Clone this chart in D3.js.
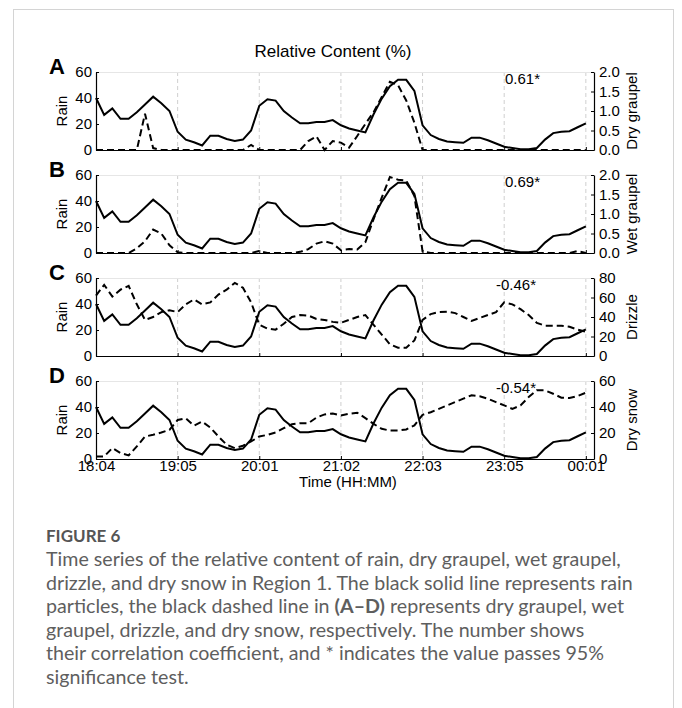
<!DOCTYPE html>
<html>
<head>
<meta charset="utf-8">
<script src="https://cdn.jsdelivr.net/npm/d3@7"></script>
<style>
  body { margin: 0; background: #fff; }
  .chart text { font-family: "Liberation Sans", Arial, sans-serif; fill: #000; }
  .caption text { font-family: Lato, "Open Sans", sans-serif; fill: #5e5e5e; }
</style>
</head>
<body>
<script>
// x tick labels, one every 10 samples
const timeLabels = ["18:04", "19:05", "20:01", "21:02", "22:03", "23:05", "00:01"];

// rain relative content (%), same in all panels
const rain = [40, 27, 32, 24, 24, 29, 35, 41, 36, 30,
  14, 8, 6, 3.5, 11, 11, 8.5, 7, 8, 15,
  34, 39, 38, 30, 25, 20.5, 20.5, 21.5, 21.5, 23,
  19, 16.5, 15, 13.5, 27.5, 39.5, 49, 54, 54, 45.5,
  19, 11.5, 8.5, 6.5, 6, 5.5, 9.5, 9.5, 7.5, 5,
  2.5, 1.5, 0.5, 0.5, 1.5, 8, 13, 14, 14.5, 17.5, 20.5];

const dryGraupel = [0, 0, 0, 0, 0, 0, 0.93, 0.05, 0, 0,
  0, 0, 0, 0, 0, 0, 0, 0, 0, 0.13,
  0, 0, 0, 0, 0, 0, 0.23, 0.35, 0, 0.23,
  0.19, 0.06, 0.36, 0.67, 0.97, 1.36, 1.75, 1.66, 1.27, 0.7,
  0, 0, 0, 0, 0, 0, 0, 0, 0, 0,
  0, 0, 0, 0, 0, 0, 0, 0, 0, 0, 0];

const wetGraupel = [0, 0, 0, 0, 0, 0.12, 0.3, 0.6, 0.5, 0.2,
  0.02, 0, 0, 0, 0, 0, 0, 0, 0, 0,
  0.05, 0, 0, 0, 0, 0.03, 0.1, 0.24, 0.3, 0.24,
  0.07, 0.1, 0.09, 0.28, 0.87, 1.42, 1.95, 1.88, 1.86, 1.46,
  0.04, 0, 0, 0, 0, 0, 0, 0, 0, 0,
  0, 0, 0, 0, 0, 0, 0, 0, 0, 0.05, 0];

const drizzle = [62, 73, 61, 68, 72, 53, 37, 40, 45, 47,
  45, 53, 58, 53, 55, 63, 68, 75, 70, 55,
  32, 28, 27, 33, 40, 42, 41.5, 38, 37, 35,
  34, 37, 40, 42, 32, 22, 12, 8.5, 8.5, 16,
  37, 43, 45, 45.5, 44, 40, 36, 39, 42, 45,
  55, 53, 48, 42, 34, 31, 31, 31, 30, 27, 25];

const drySnow = [2, 2, 8.4, 4.6, 2.8, 9.7, 17.3, 18.6, 20.4, 22.4,
  30, 31.3, 25.7, 28.8, 24.2, 17.3, 11, 8.4, 10.2, 13.5,
  17.3, 18.6, 20.4, 23.7, 26.7, 27.5, 27.5, 31.8, 34.3, 35,
  33.5, 34.8, 35.6, 31.4, 27, 23.2, 21.9, 21.9, 22.7, 25.8,
  34, 36, 38.6, 41.2, 43.8, 46.4, 49, 48.2, 46.4, 43.8,
  41.2, 38.6, 41.2, 47.7, 52.8, 52.8, 50.2, 47.2, 46.9, 48.5, 51];

const panelLetters = ["A", "B", "C", "D"];
const rightNames = ["Dry graupel", "Wet graupel", "Drizzle", "Dry snow"];
const rightSeries = [dryGraupel, wetGraupel, drizzle, drySnow];
const corrLabels = ["0.61*", "0.69*", "-0.46*", "-0.54*"];
const rainTicks = [0, 20, 40, 60];
const rightTicks = [[0, 0.5, 1, 1.5, 2], [0, 0.5, 1, 1.5, 2], [0, 20, 40, 60, 80], [0, 20, 40, 60]];

const width = 682;
const height = 708;
const panelTop = [72, 175, 278, 381];
const panelH = 78;
const left = 96, right = 594;

const svg = d3.select("body").append("svg")
    .attr("width", width)
    .attr("height", height);

// light frame round the figure
svg.append("rect")
    .attr("x", 13.5).attr("y", 9.5)
    .attr("width", 660).attr("height", 720)
    .attr("fill", "none")
    .attr("stroke", "#d4d4d4");

const chart = svg.append("g").attr("class", "chart");

const x = d3.scaleLinear()
    .domain([0, 61])
    .range([left, right]);

const tickIdx = timeLabels.map((d, i) => i * 10);

// title
chart.append("text")
    .attr("x", 333)
    .attr("y", 57)
    .attr("text-anchor", "middle")
    .style("font-size", "17px")
    .text("Relative Content (%)");

panelTop.forEach((top, p) => {
    const bottom = top + panelH;
    const yL = d3.scaleLinear().domain([0, 60]).range([bottom, top]);
    const rt = rightTicks[p];
    const yR = d3.scaleLinear().domain([0, rt[rt.length - 1]]).range([bottom, top]);
    const g = chart.append("g");

    // dashed vertical grid
    g.selectAll(".grid")
        .data(tickIdx.slice(1))
        .enter()
        .append("line")
        .attr("x1", d => x(d)).attr("x2", d => x(d))
        .attr("y1", top).attr("y2", bottom)
        .attr("stroke", "#cfcfcf")
        .attr("stroke-width", 1)
        .attr("stroke-dasharray", "4,3");

    // top edge of the box
    g.append("line")
        .attr("x1", left).attr("x2", right)
        .attr("y1", top + 0.5).attr("y2", top + 0.5)
        .attr("stroke", "#e6e6e6");

    // lines
    const rainLine = d3.line().x((d, i) => x(i)).y(d => yL(d));
    const otherLine = d3.line().x((d, i) => x(i)).y(d => yR(d));

    g.append("path")
        .datum(rightSeries[p])
        .attr("d", otherLine)
        .attr("fill", "none")
        .attr("stroke", "#000")
        .attr("stroke-width", 2)
        .attr("stroke-dasharray", "7,4");

    g.append("path")
        .datum(rain)
        .attr("d", rainLine)
        .attr("fill", "none")
        .attr("stroke", "#000")
        .attr("stroke-width", 2);

    // axes
    const xAxis = g.append("g")
        .attr("transform", "translate(0," + bottom + ")")
        .call(d3.axisBottom(x).tickValues(tickIdx)
            .tickFormat((d, i) => p === 3 ? timeLabels[i] : "")
            .tickSizeInner(-3).tickSizeOuter(0).tickPadding(1));

    const lAxis = g.append("g")
        .attr("transform", "translate(" + left + ",0)")
        .call(d3.axisLeft(yL).tickValues(rainTicks)
            .tickSizeInner(-3).tickSizeOuter(0).tickPadding(4));

    const rAxis = g.append("g")
        .attr("transform", "translate(" + right + ",0)")
        .call(d3.axisRight(yR).tickValues(rt)
            .tickFormat(p < 2 ? d3.format(".1f") : d3.format("d"))
            .tickSizeInner(-3).tickSizeOuter(0).tickPadding(5));

    [xAxis, lAxis, rAxis].forEach(a => {
        a.attr("font-family", null).attr("font-size", null);
        a.selectAll("text").style("font-size", "15px");
        a.select(".domain").attr("stroke", "#000").attr("stroke-width", 1.2);
    });
    xAxis.selectAll("text").attr("dy", "0.74em");

    // axis titles
    g.append("text")
        .attr("transform", "translate(67," + (top + panelH / 2) + ") rotate(-90)")
        .attr("text-anchor", "middle")
        .style("font-size", "15px")
        .text("Rain");

    g.append("text")
        .attr("transform", "translate(637," + (top + panelH / 2) + ") rotate(-90)")
        .attr("text-anchor", "middle")
        .style("font-size", "15px")
        .text(rightNames[p]);

    // panel letter
    g.append("text")
        .attr("x", 49)
        .attr("y", top + 2)
        .style("font-size", "22px")
        .style("font-weight", "bold")
        .text(panelLetters[p]);

    // correlation coefficient
    g.append("text")
        .attr("x", corrLabels[p].startsWith("-") ? 496 : 505)
        .attr("y", top + 12)
        .style("font-size", "15px")
        .text(corrLabels[p]);
});

// x label
chart.append("text")
    .attr("x", 348)
    .attr("y", 487)
    .attr("text-anchor", "middle")
    .style("font-size", "15px")
    .text("Time (HH:MM)");

// caption
const captionLines = [
    [["Time series of the relative content of rain, dry graupel, wet graupel,", false]],
    [["drizzle, and dry snow in Region 1. The black solid line represents rain", false]],
    [["particles, the black dashed line in ", false], ["(A\u2013D)", true], [" represents dry graupel, wet", false]],
    [["graupel, drizzle, and dry snow, respectively. The number shows", false]],
    [["their correlation coefficient, and * indicates the value passes 95%", false]],
    [["significance test.", false]]
];

const cap = svg.append("g").attr("class", "caption");

cap.append("text")
    .attr("x", 46)
    .attr("y", 542)
    .style("font-size", "17px")
    .style("font-weight", "bold")
    .style("fill", "#555")
    .text("FIGURE 6");

const lines = cap.selectAll(".cline")
    .data(captionLines)
    .enter()
    .append("text")
    .attr("class", "cline")
    .attr("x", 46)
    .attr("y", (d, i) => 566 + i * 23.5)
    .style("font-size", "17px");

lines.selectAll("tspan")
    .data(d => d)
    .enter()
    .append("tspan")
    .style("font-weight", d => d[1] ? "bold" : null)
    .text(d => d[0]);

// fit the caption width to the reference line length
const w = lines.nodes()[1].getComputedTextLength();
const fs = 17 * 587 / w;
lines.style("font-size", fs + "px");
</script>
</body>
</html>
